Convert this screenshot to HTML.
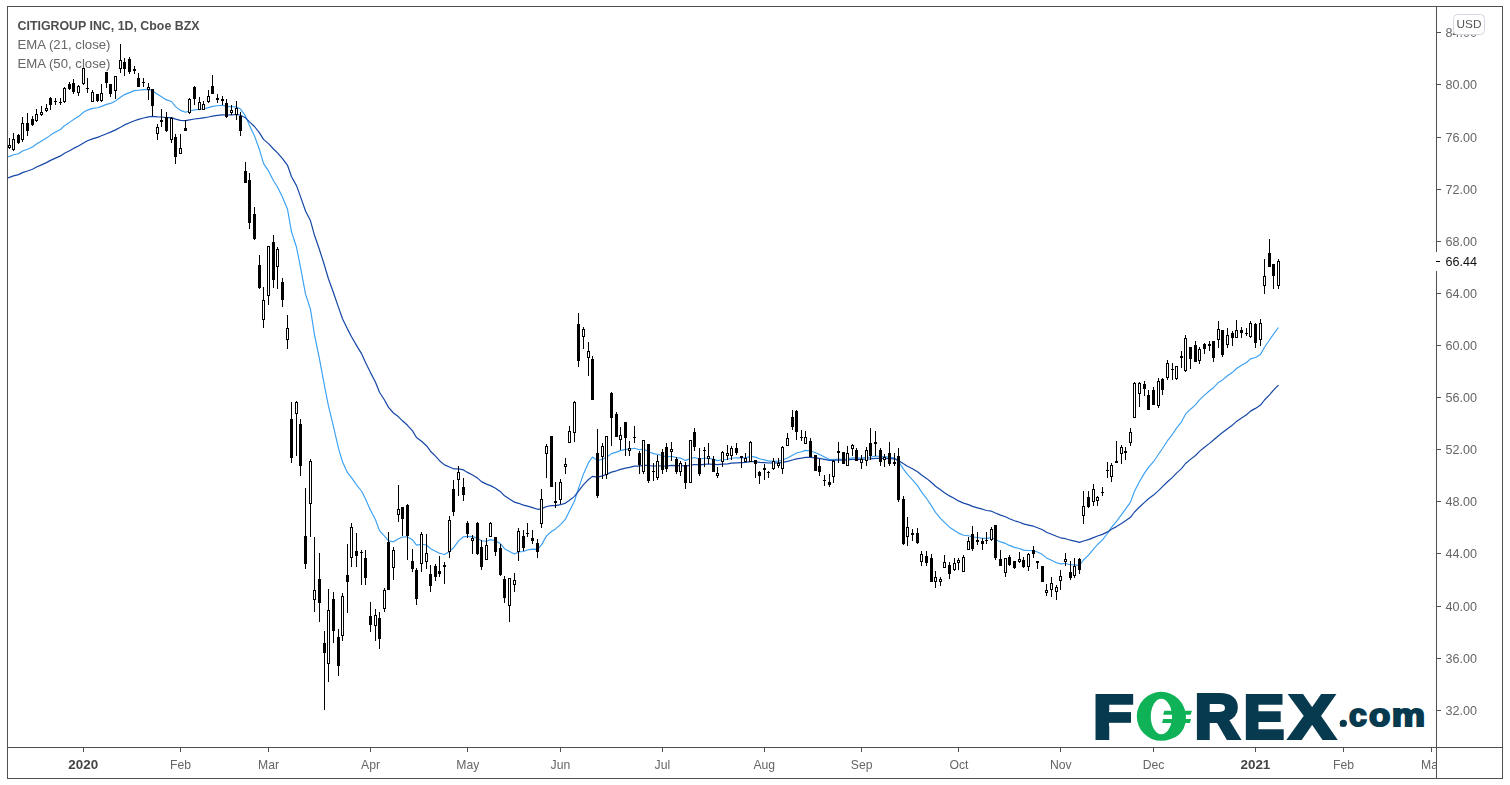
<!DOCTYPE html>
<html><head><meta charset="utf-8"><title>CITIGROUP INC, 1D</title>
<style>
html,body{margin:0;padding:0;background:#fff;}
body{width:1510px;height:785px;overflow:hidden;position:relative;}
svg{position:absolute;left:0;top:0;}
.t{font-family:"Liberation Sans",Arial,sans-serif;}
.g{filter:grayscale(1);}
</style></head><body>
<svg width="1510" height="785" viewBox="0 0 1510 785">
<defs><clipPath id="tc"><rect x="8" y="748" width="1428" height="30"/></clipPath>
<clipPath id="pc"><rect x="8" y="7" width="1428" height="740"/></clipPath></defs>
<rect x="0" y="0" width="1510" height="785" fill="#fff"/>
<g class="t g" fill="#585858">
<text x="17.5" y="30" font-size="12.2" font-weight="bold" fill="#4e4e4e" textLength="182" lengthAdjust="spacingAndGlyphs">CITIGROUP INC, 1D, Cboe BZX</text>
<text x="17.5" y="48.7" font-size="12.2" fill="#666" textLength="93" lengthAdjust="spacingAndGlyphs">EMA (21, close)</text>
<text x="17.5" y="67.6" font-size="12.2" fill="#666" textLength="93" lengthAdjust="spacingAndGlyphs">EMA (50, close)</text>
</g>
<g clip-path="url(#pc)">
<polyline fill="none" stroke="#3aa0f4" stroke-width="1.15" stroke-linejoin="round" points="4.5,157.5 9.5,156.4 13.5,154.8 18.5,153.7 22.5,151.0 27.5,149.2 32.5,147.0 36.5,144.0 41.5,141.1 46.5,138.1 50.5,135.1 55.5,132.1 60.5,129.5 64.5,125.7 69.5,122.4 73.5,119.6 78.5,116.6 83.5,112.2 87.5,110.1 92.5,108.4 97.5,107.8 101.5,106.4 106.5,104.4 110.5,103.4 115.5,100.9 120.5,97.2 124.5,94.6 129.5,92.6 134.5,90.6 138.5,90.2 143.5,89.6 148.5,89.4 152.5,90.9 157.5,94.2 161.5,96.7 166.5,99.9 171.5,101.5 175.5,106.6 180.5,110.4 185.5,112.2 189.5,111.0 194.5,109.9 199.5,109.2 203.5,108.8 208.5,107.6 212.5,106.4 217.5,105.8 222.5,105.3 226.5,106.4 231.5,106.8 236.5,106.9 240.5,109.1 245.5,115.9 249.5,125.6 254.5,135.9 259.5,149.7 263.5,163.4 268.5,170.9 273.5,180.8 277.5,187.0 282.5,197.3 287.5,209.2 291.5,231.8 296.5,247.3 300.5,267.1 305.5,294.1 310.5,309.3 314.5,334.8 319.5,359.1 324.5,385.8 328.5,406.2 333.5,426.6 338.5,448.4 342.5,461.8 347.5,472.7 351.5,477.7 356.5,484.8 361.5,491.0 365.5,498.9 370.5,510.3 375.5,519.8 379.5,530.6 384.5,536.1 388.5,540.9 393.5,541.8 398.5,538.8 402.5,537.0 407.5,536.9 412.5,539.8 416.5,545.1 421.5,544.2 426.5,545.0 430.5,548.7 435.5,551.2 439.5,553.3 444.5,554.5 449.5,551.4 453.5,547.8 458.5,540.9 463.5,536.7 467.5,536.4 472.5,536.6 477.5,538.2 481.5,540.8 486.5,541.2 490.5,539.6 495.5,540.7 500.5,543.8 504.5,548.7 509.5,551.4 514.5,554.0 518.5,551.9 523.5,551.5 527.5,550.0 532.5,549.1 537.5,549.4 541.5,544.9 546.5,535.9 551.5,531.5 555.5,528.9 560.5,524.6 565.5,519.1 569.5,511.1 574.5,501.1 578.5,488.4 583.5,473.9 588.5,462.7 592.5,457.0 597.5,460.6 602.5,459.3 606.5,457.2 611.5,453.6 616.5,452.1 620.5,450.6 625.5,449.4 629.5,449.3 634.5,448.3 639.5,449.7 643.5,448.9 648.5,451.8 653.5,453.6 657.5,454.3 662.5,455.7 666.5,456.9 671.5,456.2 676.5,457.6 680.5,458.1 685.5,460.4 690.5,458.6 694.5,457.5 699.5,459.0 704.5,458.3 708.5,458.1 713.5,459.4 717.5,460.6 722.5,459.8 727.5,459.3 731.5,458.2 736.5,457.8 741.5,457.8 745.5,457.9 750.5,456.4 755.5,457.1 759.5,458.8 764.5,459.9 768.5,461.1 773.5,461.1 778.5,461.3 782.5,460.0 787.5,458.0 792.5,455.2 796.5,453.0 801.5,451.7 805.5,450.4 810.5,451.0 815.5,452.8 819.5,454.5 824.5,457.0 829.5,459.5 833.5,459.6 838.5,459.0 843.5,459.5 847.5,458.9 852.5,457.7 856.5,458.0 861.5,458.1 866.5,457.4 870.5,457.2 875.5,456.0 880.5,456.5 884.5,456.6 889.5,457.2 894.5,457.8 898.5,461.6 903.5,469.1 907.5,474.4 912.5,479.9 917.5,485.6 921.5,491.9 926.5,498.3 931.5,505.9 935.5,512.4 940.5,518.4 944.5,522.4 949.5,527.2 954.5,530.4 958.5,533.1 963.5,535.3 968.5,535.8 972.5,537.0 977.5,537.5 982.5,538.2 986.5,538.4 991.5,537.6 995.5,539.4 1000.5,541.9 1005.5,543.4 1009.5,545.4 1014.5,547.4 1019.5,548.5 1023.5,550.1 1028.5,550.5 1033.5,550.8 1037.5,552.0 1042.5,554.6 1046.5,557.9 1051.5,560.2 1056.5,562.7 1060.5,563.9 1065.5,563.5 1070.5,564.8 1074.5,564.9 1079.5,565.4 1083.5,560.0 1088.5,555.2 1093.5,549.2 1097.5,544.5 1102.5,539.8 1107.5,533.5 1111.5,527.3 1116.5,521.4 1121.5,514.7 1125.5,509.1 1130.5,502.1 1134.5,491.3 1139.5,481.5 1144.5,473.1 1148.5,467.3 1153.5,461.7 1158.5,454.3 1162.5,448.5 1167.5,440.7 1172.5,434.3 1176.5,428.1 1181.5,421.8 1185.5,414.2 1190.5,409.2 1195.5,404.9 1199.5,399.8 1204.5,395.2 1209.5,390.7 1213.5,387.7 1218.5,382.4 1222.5,379.9 1227.5,375.8 1232.5,372.3 1236.5,368.5 1241.5,365.3 1246.5,362.5 1250.5,358.9 1255.5,357.5 1260.5,354.4 1264.5,347.3 1269.5,340.0 1273.5,334.2 1278.5,327.5"/>
<polyline fill="none" stroke="#1547a6" stroke-width="1.2" stroke-linejoin="round" points="4.5,178.7 9.5,177.4 13.5,175.9 18.5,174.6 22.5,172.6 27.5,171.0 32.5,169.2 36.5,167.0 41.5,164.9 46.5,162.6 50.5,160.4 55.5,158.1 60.5,155.9 64.5,153.3 69.5,150.8 73.5,148.4 78.5,146.0 83.5,143.0 87.5,140.8 92.5,138.9 97.5,137.4 101.5,135.7 106.5,133.7 110.5,132.1 115.5,129.9 120.5,127.2 124.5,124.9 129.5,122.8 134.5,120.8 138.5,119.4 143.5,118.0 148.5,116.8 152.5,116.4 157.5,116.8 161.5,117.0 166.5,117.6 171.5,117.6 175.5,119.1 180.5,120.3 185.5,120.7 189.5,119.9 194.5,119.0 199.5,118.4 203.5,117.8 208.5,117.0 212.5,116.1 217.5,115.4 222.5,114.9 226.5,115.0 231.5,114.8 236.5,114.5 240.5,115.2 245.5,117.8 249.5,121.9 254.5,126.5 259.5,132.9 263.5,139.4 268.5,143.6 273.5,149.0 277.5,152.9 282.5,158.6 287.5,165.3 291.5,176.8 296.5,185.6 300.5,196.6 305.5,211.0 310.5,220.8 314.5,235.3 319.5,249.7 324.5,265.5 328.5,279.0 333.5,292.8 338.5,307.4 342.5,318.8 347.5,329.1 351.5,336.8 356.5,345.4 361.5,353.6 365.5,362.4 370.5,372.6 375.5,382.2 379.5,392.2 384.5,400.0 388.5,407.4 393.5,413.0 398.5,416.8 402.5,420.8 407.5,425.3 412.5,430.9 416.5,437.5 421.5,441.3 426.5,445.7 430.5,451.2 435.5,456.1 439.5,460.7 444.5,464.9 449.5,467.0 453.5,468.8 458.5,468.9 463.5,469.9 467.5,472.4 472.5,475.0 477.5,478.1 481.5,481.6 486.5,484.1 490.5,485.6 495.5,488.2 500.5,491.7 504.5,495.8 509.5,499.0 514.5,502.2 518.5,503.3 523.5,505.1 527.5,506.2 532.5,507.6 537.5,509.3 541.5,508.9 546.5,506.5 551.5,505.7 555.5,505.6 560.5,504.7 565.5,503.1 569.5,500.3 574.5,496.4 578.5,491.1 583.5,484.7 588.5,479.5 592.5,476.4 597.5,477.1 602.5,475.9 606.5,474.4 611.5,472.1 616.5,470.8 620.5,469.4 625.5,468.1 629.5,467.4 634.5,466.2 639.5,466.1 643.5,465.1 648.5,465.7 653.5,466.0 657.5,465.8 662.5,466.0 666.5,466.1 671.5,465.4 676.5,465.7 680.5,465.6 685.5,466.2 690.5,465.2 694.5,464.5 699.5,464.9 704.5,464.3 708.5,464.0 713.5,464.3 717.5,464.7 722.5,464.2 727.5,463.8 731.5,463.1 736.5,462.8 741.5,462.6 745.5,462.4 750.5,461.6 755.5,461.7 759.5,462.3 764.5,462.6 768.5,463.0 773.5,462.9 778.5,462.9 782.5,462.3 787.5,461.4 792.5,460.0 796.5,458.9 801.5,458.1 805.5,457.3 810.5,457.3 815.5,457.8 819.5,458.4 824.5,459.3 829.5,460.3 833.5,460.3 838.5,460.0 843.5,460.2 847.5,459.9 852.5,459.3 856.5,459.4 861.5,459.4 866.5,459.0 870.5,458.9 875.5,458.3 880.5,458.4 884.5,458.4 889.5,458.6 894.5,458.8 898.5,460.4 903.5,463.7 907.5,466.2 912.5,468.8 917.5,471.8 921.5,475.0 926.5,478.4 931.5,482.5 935.5,486.2 940.5,489.8 944.5,492.7 949.5,495.9 954.5,498.5 958.5,500.9 963.5,503.1 968.5,504.6 972.5,506.4 977.5,507.8 982.5,509.2 986.5,510.5 991.5,511.2 995.5,513.0 1000.5,515.1 1005.5,516.8 1009.5,518.7 1014.5,520.7 1019.5,522.2 1023.5,523.9 1028.5,525.1 1033.5,526.2 1037.5,527.7 1042.5,529.8 1046.5,532.2 1051.5,534.2 1056.5,536.3 1060.5,537.8 1065.5,538.7 1070.5,540.2 1074.5,541.2 1079.5,542.4 1083.5,541.0 1088.5,539.6 1093.5,537.6 1097.5,536.0 1102.5,534.4 1107.5,531.9 1111.5,529.3 1116.5,526.6 1121.5,523.5 1125.5,520.8 1130.5,517.3 1134.5,512.0 1139.5,507.0 1144.5,502.4 1148.5,498.7 1153.5,495.1 1158.5,490.6 1162.5,486.6 1167.5,481.8 1172.5,477.4 1176.5,473.1 1181.5,468.6 1185.5,463.5 1190.5,459.4 1195.5,455.5 1199.5,451.4 1204.5,447.3 1209.5,443.4 1213.5,440.0 1218.5,435.7 1222.5,432.5 1227.5,428.7 1232.5,425.1 1236.5,421.4 1241.5,417.9 1246.5,414.7 1250.5,411.1 1255.5,408.4 1260.5,405.1 1264.5,400.0 1269.5,394.8 1273.5,390.2 1278.5,385.1"/>
<g fill="#000" shape-rendering="crispEdges">
<rect x="9" y="138" width="1" height="11"/>
<rect x="8" y="145" width="3" height="3"/>
<rect x="9" y="146" width="1" height="1" fill="#fff"/>
<rect x="13" y="133" width="1" height="18"/>
<rect x="12" y="139" width="3" height="11"/>
<rect x="13" y="140" width="1" height="9" fill="#fff"/>
<rect x="18" y="134" width="1" height="10"/>
<rect x="17" y="135" width="3" height="8"/>
<rect x="22" y="117" width="1" height="25"/>
<rect x="21" y="123" width="3" height="17"/>
<rect x="22" y="124" width="1" height="15" fill="#fff"/>
<rect x="27" y="113" width="1" height="23"/>
<rect x="26" y="123" width="3" height="8"/>
<rect x="32" y="116" width="1" height="10"/>
<rect x="31" y="119" width="3" height="6"/>
<rect x="36" y="109" width="1" height="13"/>
<rect x="35" y="114" width="3" height="7"/>
<rect x="36" y="115" width="1" height="5" fill="#fff"/>
<rect x="41" y="106" width="1" height="10"/>
<rect x="40" y="112" width="3" height="3"/>
<rect x="41" y="113" width="1" height="1" fill="#fff"/>
<rect x="46" y="104" width="1" height="8"/>
<rect x="45" y="108" width="3" height="3"/>
<rect x="46" y="109" width="1" height="1" fill="#fff"/>
<rect x="50" y="97" width="1" height="13"/>
<rect x="49" y="98" width="3" height="7"/>
<rect x="55" y="98" width="1" height="7"/>
<rect x="54" y="101" width="3" height="1"/>
<rect x="60" y="98" width="1" height="7"/>
<rect x="59" y="102" width="3" height="1"/>
<rect x="64" y="87" width="1" height="16"/>
<rect x="63" y="88" width="3" height="14"/>
<rect x="64" y="89" width="1" height="12" fill="#fff"/>
<rect x="69" y="82" width="1" height="8"/>
<rect x="68" y="84" width="3" height="5"/>
<rect x="73" y="79" width="1" height="15"/>
<rect x="72" y="83" width="3" height="9"/>
<rect x="78" y="85" width="1" height="11"/>
<rect x="77" y="86" width="3" height="7"/>
<rect x="78" y="87" width="1" height="5" fill="#fff"/>
<rect x="83" y="68" width="1" height="17"/>
<rect x="82" y="68" width="3" height="16"/>
<rect x="83" y="69" width="1" height="14" fill="#fff"/>
<rect x="87" y="78" width="1" height="15"/>
<rect x="86" y="88" width="3" height="1"/>
<rect x="92" y="90" width="1" height="12"/>
<rect x="91" y="92" width="3" height="10"/>
<rect x="92" y="93" width="1" height="8" fill="#fff"/>
<rect x="97" y="94" width="1" height="8"/>
<rect x="96" y="94" width="3" height="7"/>
<rect x="101" y="84" width="1" height="18"/>
<rect x="100" y="93" width="3" height="8"/>
<rect x="101" y="94" width="1" height="6" fill="#fff"/>
<rect x="106" y="72" width="1" height="16"/>
<rect x="105" y="72" width="3" height="11"/>
<rect x="110" y="84" width="1" height="13"/>
<rect x="109" y="84" width="3" height="10"/>
<rect x="115" y="76" width="1" height="23"/>
<rect x="114" y="76" width="3" height="15"/>
<rect x="115" y="77" width="1" height="13" fill="#fff"/>
<rect x="120" y="44" width="1" height="29"/>
<rect x="119" y="60" width="3" height="9"/>
<rect x="120" y="61" width="1" height="7" fill="#fff"/>
<rect x="124" y="58" width="1" height="18"/>
<rect x="123" y="62" width="3" height="7"/>
<rect x="129" y="57" width="1" height="17"/>
<rect x="128" y="59" width="3" height="13"/>
<rect x="134" y="66" width="1" height="8"/>
<rect x="133" y="69" width="3" height="2"/>
<rect x="138" y="73" width="1" height="14"/>
<rect x="137" y="78" width="3" height="9"/>
<rect x="143" y="78" width="1" height="9"/>
<rect x="142" y="82" width="3" height="1"/>
<rect x="148" y="83" width="1" height="17"/>
<rect x="147" y="87" width="3" height="3"/>
<rect x="148" y="88" width="1" height="1" fill="#fff"/>
<rect x="152" y="89" width="1" height="27"/>
<rect x="151" y="89" width="3" height="17"/>
<rect x="157" y="124" width="1" height="16"/>
<rect x="156" y="127" width="3" height="7"/>
<rect x="157" y="128" width="1" height="5" fill="#fff"/>
<rect x="161" y="109" width="1" height="18"/>
<rect x="160" y="120" width="3" height="2"/>
<rect x="166" y="112" width="1" height="20"/>
<rect x="165" y="117" width="3" height="14"/>
<rect x="171" y="117" width="1" height="26"/>
<rect x="170" y="118" width="3" height="22"/>
<rect x="171" y="119" width="1" height="20" fill="#fff"/>
<rect x="175" y="134" width="1" height="30"/>
<rect x="174" y="137" width="3" height="20"/>
<rect x="180" y="134" width="1" height="20"/>
<rect x="179" y="148" width="3" height="6"/>
<rect x="180" y="149" width="1" height="4" fill="#fff"/>
<rect x="185" y="120" width="1" height="11"/>
<rect x="184" y="128" width="3" height="3"/>
<rect x="189" y="98" width="1" height="16"/>
<rect x="188" y="99" width="3" height="14"/>
<rect x="189" y="100" width="1" height="12" fill="#fff"/>
<rect x="194" y="86" width="1" height="19"/>
<rect x="193" y="87" width="3" height="12"/>
<rect x="199" y="97" width="1" height="13"/>
<rect x="198" y="102" width="3" height="8"/>
<rect x="199" y="103" width="1" height="6" fill="#fff"/>
<rect x="203" y="101" width="1" height="9"/>
<rect x="202" y="104" width="3" height="6"/>
<rect x="203" y="105" width="1" height="4" fill="#fff"/>
<rect x="208" y="90" width="1" height="13"/>
<rect x="207" y="96" width="3" height="6"/>
<rect x="208" y="97" width="1" height="4" fill="#fff"/>
<rect x="212" y="75" width="1" height="19"/>
<rect x="211" y="86" width="3" height="8"/>
<rect x="217" y="94" width="1" height="9"/>
<rect x="216" y="98" width="3" height="2"/>
<rect x="222" y="96" width="1" height="9"/>
<rect x="221" y="99" width="3" height="2"/>
<rect x="226" y="99" width="1" height="19"/>
<rect x="225" y="103" width="3" height="14"/>
<rect x="231" y="105" width="1" height="10"/>
<rect x="230" y="110" width="3" height="3"/>
<rect x="231" y="111" width="1" height="1" fill="#fff"/>
<rect x="236" y="101" width="1" height="19"/>
<rect x="235" y="108" width="3" height="7"/>
<rect x="236" y="109" width="1" height="5" fill="#fff"/>
<rect x="240" y="112" width="1" height="24"/>
<rect x="239" y="116" width="3" height="15"/>
<rect x="245" y="162" width="1" height="21"/>
<rect x="244" y="171" width="3" height="12"/>
<rect x="249" y="173" width="1" height="56"/>
<rect x="248" y="180" width="3" height="43"/>
<rect x="254" y="207" width="1" height="33"/>
<rect x="253" y="214" width="3" height="25"/>
<rect x="259" y="255" width="1" height="34"/>
<rect x="258" y="265" width="3" height="23"/>
<rect x="263" y="287" width="1" height="41"/>
<rect x="262" y="300" width="3" height="20"/>
<rect x="263" y="301" width="1" height="18" fill="#fff"/>
<rect x="268" y="246" width="1" height="59"/>
<rect x="267" y="246" width="3" height="50"/>
<rect x="268" y="247" width="1" height="48" fill="#fff"/>
<rect x="273" y="235" width="1" height="53"/>
<rect x="272" y="242" width="3" height="38"/>
<rect x="277" y="247" width="1" height="42"/>
<rect x="276" y="249" width="3" height="18"/>
<rect x="277" y="250" width="1" height="16" fill="#fff"/>
<rect x="282" y="278" width="1" height="29"/>
<rect x="281" y="282" width="3" height="18"/>
<rect x="287" y="315" width="1" height="34"/>
<rect x="286" y="328" width="3" height="12"/>
<rect x="287" y="329" width="1" height="10" fill="#fff"/>
<rect x="291" y="402" width="1" height="61"/>
<rect x="290" y="419" width="3" height="39"/>
<rect x="296" y="401" width="1" height="55"/>
<rect x="295" y="402" width="3" height="12"/>
<rect x="296" y="403" width="1" height="10" fill="#fff"/>
<rect x="300" y="419" width="1" height="57"/>
<rect x="299" y="424" width="3" height="42"/>
<rect x="305" y="488" width="1" height="81"/>
<rect x="304" y="536" width="3" height="28"/>
<rect x="310" y="459" width="1" height="78"/>
<rect x="309" y="461" width="3" height="43"/>
<rect x="310" y="462" width="1" height="41" fill="#fff"/>
<rect x="314" y="537" width="1" height="75"/>
<rect x="313" y="590" width="3" height="10"/>
<rect x="314" y="591" width="1" height="8" fill="#fff"/>
<rect x="319" y="553" width="1" height="69"/>
<rect x="318" y="579" width="3" height="24"/>
<rect x="324" y="631" width="1" height="79"/>
<rect x="323" y="643" width="3" height="10"/>
<rect x="328" y="589" width="1" height="93"/>
<rect x="327" y="610" width="3" height="54"/>
<rect x="328" y="611" width="1" height="52" fill="#fff"/>
<rect x="333" y="592" width="1" height="51"/>
<rect x="332" y="599" width="3" height="32"/>
<rect x="338" y="629" width="1" height="47"/>
<rect x="337" y="637" width="3" height="29"/>
<rect x="342" y="593" width="1" height="48"/>
<rect x="341" y="596" width="3" height="40"/>
<rect x="342" y="597" width="1" height="38" fill="#fff"/>
<rect x="347" y="544" width="1" height="69"/>
<rect x="346" y="575" width="3" height="7"/>
<rect x="351" y="523" width="1" height="44"/>
<rect x="350" y="527" width="3" height="31"/>
<rect x="351" y="528" width="1" height="29" fill="#fff"/>
<rect x="356" y="533" width="1" height="34"/>
<rect x="355" y="551" width="3" height="5"/>
<rect x="361" y="550" width="1" height="35"/>
<rect x="360" y="552" width="3" height="1"/>
<rect x="365" y="550" width="1" height="35"/>
<rect x="364" y="558" width="3" height="20"/>
<rect x="370" y="602" width="1" height="30"/>
<rect x="369" y="616" width="3" height="9"/>
<rect x="375" y="609" width="1" height="32"/>
<rect x="374" y="615" width="3" height="11"/>
<rect x="375" y="616" width="1" height="9" fill="#fff"/>
<rect x="379" y="612" width="1" height="37"/>
<rect x="378" y="618" width="3" height="21"/>
<rect x="384" y="588" width="1" height="24"/>
<rect x="383" y="590" width="3" height="19"/>
<rect x="384" y="591" width="1" height="17" fill="#fff"/>
<rect x="388" y="532" width="1" height="58"/>
<rect x="387" y="542" width="3" height="48"/>
<rect x="393" y="547" width="1" height="33"/>
<rect x="392" y="550" width="3" height="18"/>
<rect x="393" y="551" width="1" height="16" fill="#fff"/>
<rect x="398" y="485" width="1" height="37"/>
<rect x="397" y="509" width="3" height="6"/>
<rect x="398" y="510" width="1" height="4" fill="#fff"/>
<rect x="402" y="507" width="1" height="29"/>
<rect x="401" y="507" width="3" height="12"/>
<rect x="407" y="504" width="1" height="56"/>
<rect x="406" y="505" width="3" height="31"/>
<rect x="412" y="549" width="1" height="23"/>
<rect x="411" y="561" width="3" height="8"/>
<rect x="416" y="568" width="1" height="37"/>
<rect x="415" y="570" width="3" height="29"/>
<rect x="421" y="532" width="1" height="40"/>
<rect x="420" y="534" width="3" height="30"/>
<rect x="421" y="535" width="1" height="28" fill="#fff"/>
<rect x="426" y="534" width="1" height="35"/>
<rect x="425" y="553" width="3" height="9"/>
<rect x="426" y="554" width="1" height="7" fill="#fff"/>
<rect x="430" y="565" width="1" height="27"/>
<rect x="429" y="574" width="3" height="12"/>
<rect x="435" y="564" width="1" height="17"/>
<rect x="434" y="566" width="3" height="11"/>
<rect x="439" y="556" width="1" height="21"/>
<rect x="438" y="571" width="3" height="3"/>
<rect x="444" y="562" width="1" height="22"/>
<rect x="443" y="565" width="3" height="2"/>
<rect x="449" y="516" width="1" height="42"/>
<rect x="448" y="520" width="3" height="32"/>
<rect x="449" y="521" width="1" height="30" fill="#fff"/>
<rect x="453" y="480" width="1" height="36"/>
<rect x="452" y="489" width="3" height="23"/>
<rect x="458" y="466" width="1" height="30"/>
<rect x="457" y="472" width="3" height="8"/>
<rect x="458" y="473" width="1" height="6" fill="#fff"/>
<rect x="463" y="478" width="1" height="23"/>
<rect x="462" y="487" width="3" height="8"/>
<rect x="467" y="521" width="1" height="17"/>
<rect x="466" y="523" width="3" height="11"/>
<rect x="472" y="535" width="1" height="19"/>
<rect x="471" y="538" width="3" height="3"/>
<rect x="472" y="539" width="1" height="1" fill="#fff"/>
<rect x="477" y="522" width="1" height="33"/>
<rect x="476" y="523" width="3" height="31"/>
<rect x="481" y="540" width="1" height="30"/>
<rect x="480" y="547" width="3" height="20"/>
<rect x="486" y="538" width="1" height="22"/>
<rect x="485" y="545" width="3" height="15"/>
<rect x="486" y="546" width="1" height="13" fill="#fff"/>
<rect x="490" y="522" width="1" height="15"/>
<rect x="489" y="523" width="3" height="14"/>
<rect x="490" y="524" width="1" height="12" fill="#fff"/>
<rect x="495" y="537" width="1" height="19"/>
<rect x="494" y="537" width="3" height="15"/>
<rect x="500" y="544" width="1" height="32"/>
<rect x="499" y="548" width="3" height="27"/>
<rect x="504" y="576" width="1" height="27"/>
<rect x="503" y="579" width="3" height="19"/>
<rect x="509" y="578" width="1" height="44"/>
<rect x="508" y="578" width="3" height="28"/>
<rect x="509" y="579" width="1" height="26" fill="#fff"/>
<rect x="514" y="573" width="1" height="19"/>
<rect x="513" y="580" width="3" height="5"/>
<rect x="514" y="581" width="1" height="3" fill="#fff"/>
<rect x="518" y="528" width="1" height="33"/>
<rect x="517" y="531" width="3" height="21"/>
<rect x="518" y="532" width="1" height="19" fill="#fff"/>
<rect x="523" y="530" width="1" height="21"/>
<rect x="522" y="536" width="3" height="12"/>
<rect x="527" y="523" width="1" height="14"/>
<rect x="526" y="533" width="3" height="1"/>
<rect x="532" y="530" width="1" height="14"/>
<rect x="531" y="538" width="3" height="3"/>
<rect x="537" y="539" width="1" height="19"/>
<rect x="536" y="543" width="3" height="9"/>
<rect x="541" y="489" width="1" height="39"/>
<rect x="540" y="499" width="3" height="25"/>
<rect x="541" y="500" width="1" height="23" fill="#fff"/>
<rect x="546" y="444" width="1" height="34"/>
<rect x="545" y="446" width="3" height="8"/>
<rect x="546" y="447" width="1" height="6" fill="#fff"/>
<rect x="551" y="436" width="1" height="51"/>
<rect x="550" y="436" width="3" height="51"/>
<rect x="555" y="482" width="1" height="26"/>
<rect x="554" y="501" width="3" height="2"/>
<rect x="560" y="479" width="1" height="25"/>
<rect x="559" y="482" width="3" height="18"/>
<rect x="560" y="483" width="1" height="16" fill="#fff"/>
<rect x="565" y="458" width="1" height="16"/>
<rect x="564" y="464" width="3" height="3"/>
<rect x="565" y="465" width="1" height="1" fill="#fff"/>
<rect x="569" y="426" width="1" height="17"/>
<rect x="568" y="431" width="3" height="12"/>
<rect x="569" y="432" width="1" height="10" fill="#fff"/>
<rect x="574" y="401" width="1" height="41"/>
<rect x="573" y="402" width="3" height="31"/>
<rect x="574" y="403" width="1" height="29" fill="#fff"/>
<rect x="578" y="313" width="1" height="54"/>
<rect x="577" y="324" width="3" height="37"/>
<rect x="583" y="327" width="1" height="22"/>
<rect x="582" y="329" width="3" height="8"/>
<rect x="583" y="330" width="1" height="6" fill="#fff"/>
<rect x="588" y="342" width="1" height="34"/>
<rect x="587" y="351" width="3" height="7"/>
<rect x="588" y="352" width="1" height="5" fill="#fff"/>
<rect x="592" y="356" width="1" height="44"/>
<rect x="591" y="359" width="3" height="41"/>
<rect x="597" y="429" width="1" height="69"/>
<rect x="596" y="453" width="3" height="43"/>
<rect x="602" y="443" width="1" height="36"/>
<rect x="601" y="446" width="3" height="11"/>
<rect x="602" y="447" width="1" height="9" fill="#fff"/>
<rect x="606" y="436" width="1" height="43"/>
<rect x="605" y="436" width="3" height="39"/>
<rect x="606" y="437" width="1" height="37" fill="#fff"/>
<rect x="611" y="392" width="1" height="54"/>
<rect x="610" y="393" width="3" height="25"/>
<rect x="616" y="412" width="1" height="25"/>
<rect x="615" y="414" width="3" height="23"/>
<rect x="620" y="427" width="1" height="23"/>
<rect x="619" y="435" width="3" height="5"/>
<rect x="620" y="436" width="1" height="3" fill="#fff"/>
<rect x="625" y="422" width="1" height="34"/>
<rect x="624" y="422" width="3" height="16"/>
<rect x="629" y="441" width="1" height="15"/>
<rect x="628" y="448" width="3" height="3"/>
<rect x="629" y="449" width="1" height="1" fill="#fff"/>
<rect x="634" y="426" width="1" height="17"/>
<rect x="633" y="437" width="3" height="1"/>
<rect x="639" y="451" width="1" height="23"/>
<rect x="638" y="453" width="3" height="12"/>
<rect x="643" y="440" width="1" height="34"/>
<rect x="642" y="440" width="3" height="32"/>
<rect x="643" y="441" width="1" height="30" fill="#fff"/>
<rect x="648" y="444" width="1" height="39"/>
<rect x="647" y="444" width="3" height="37"/>
<rect x="653" y="463" width="1" height="18"/>
<rect x="652" y="471" width="3" height="1"/>
<rect x="657" y="455" width="1" height="25"/>
<rect x="656" y="461" width="3" height="17"/>
<rect x="657" y="462" width="1" height="15" fill="#fff"/>
<rect x="662" y="449" width="1" height="25"/>
<rect x="661" y="452" width="3" height="18"/>
<rect x="666" y="443" width="1" height="29"/>
<rect x="665" y="447" width="3" height="22"/>
<rect x="671" y="442" width="1" height="19"/>
<rect x="670" y="449" width="3" height="3"/>
<rect x="671" y="450" width="1" height="1" fill="#fff"/>
<rect x="676" y="457" width="1" height="17"/>
<rect x="675" y="459" width="3" height="13"/>
<rect x="680" y="461" width="1" height="15"/>
<rect x="679" y="463" width="3" height="9"/>
<rect x="680" y="464" width="1" height="7" fill="#fff"/>
<rect x="685" y="462" width="1" height="27"/>
<rect x="684" y="465" width="3" height="18"/>
<rect x="690" y="440" width="1" height="43"/>
<rect x="689" y="440" width="3" height="43"/>
<rect x="690" y="441" width="1" height="41" fill="#fff"/>
<rect x="694" y="428" width="1" height="23"/>
<rect x="693" y="432" width="3" height="15"/>
<rect x="699" y="448" width="1" height="28"/>
<rect x="698" y="458" width="3" height="16"/>
<rect x="704" y="447" width="1" height="20"/>
<rect x="703" y="450" width="3" height="1"/>
<rect x="708" y="443" width="1" height="21"/>
<rect x="707" y="456" width="3" height="3"/>
<rect x="708" y="457" width="1" height="1" fill="#fff"/>
<rect x="713" y="456" width="1" height="16"/>
<rect x="712" y="459" width="3" height="13"/>
<rect x="717" y="467" width="1" height="11"/>
<rect x="716" y="473" width="3" height="3"/>
<rect x="717" y="474" width="1" height="1" fill="#fff"/>
<rect x="722" y="451" width="1" height="16"/>
<rect x="721" y="452" width="3" height="10"/>
<rect x="722" y="453" width="1" height="8" fill="#fff"/>
<rect x="727" y="445" width="1" height="15"/>
<rect x="726" y="453" width="3" height="3"/>
<rect x="727" y="454" width="1" height="1" fill="#fff"/>
<rect x="731" y="446" width="1" height="14"/>
<rect x="730" y="448" width="3" height="8"/>
<rect x="731" y="449" width="1" height="6" fill="#fff"/>
<rect x="736" y="443" width="1" height="12"/>
<rect x="735" y="448" width="3" height="5"/>
<rect x="741" y="456" width="1" height="12"/>
<rect x="740" y="456" width="3" height="2"/>
<rect x="745" y="453" width="1" height="9"/>
<rect x="744" y="458" width="3" height="4"/>
<rect x="745" y="459" width="1" height="2" fill="#fff"/>
<rect x="750" y="441" width="1" height="21"/>
<rect x="749" y="442" width="3" height="20"/>
<rect x="750" y="443" width="1" height="18" fill="#fff"/>
<rect x="755" y="460" width="1" height="18"/>
<rect x="754" y="460" width="3" height="4"/>
<rect x="759" y="471" width="1" height="13"/>
<rect x="758" y="472" width="3" height="4"/>
<rect x="764" y="464" width="1" height="16"/>
<rect x="763" y="468" width="3" height="2"/>
<rect x="768" y="471" width="1" height="7"/>
<rect x="767" y="472" width="3" height="1"/>
<rect x="773" y="458" width="1" height="12"/>
<rect x="772" y="461" width="3" height="8"/>
<rect x="773" y="462" width="1" height="6" fill="#fff"/>
<rect x="778" y="458" width="1" height="10"/>
<rect x="777" y="463" width="3" height="3"/>
<rect x="778" y="464" width="1" height="1" fill="#fff"/>
<rect x="782" y="446" width="1" height="28"/>
<rect x="781" y="447" width="3" height="22"/>
<rect x="782" y="448" width="1" height="20" fill="#fff"/>
<rect x="787" y="433" width="1" height="13"/>
<rect x="786" y="438" width="3" height="8"/>
<rect x="787" y="439" width="1" height="6" fill="#fff"/>
<rect x="792" y="410" width="1" height="20"/>
<rect x="791" y="417" width="3" height="10"/>
<rect x="796" y="410" width="1" height="30"/>
<rect x="795" y="411" width="3" height="21"/>
<rect x="801" y="430" width="1" height="11"/>
<rect x="800" y="437" width="3" height="1"/>
<rect x="805" y="431" width="1" height="13"/>
<rect x="804" y="437" width="3" height="7"/>
<rect x="805" y="438" width="1" height="5" fill="#fff"/>
<rect x="810" y="438" width="1" height="19"/>
<rect x="809" y="441" width="3" height="16"/>
<rect x="815" y="455" width="1" height="16"/>
<rect x="814" y="455" width="3" height="16"/>
<rect x="819" y="459" width="1" height="17"/>
<rect x="818" y="466" width="3" height="6"/>
<rect x="824" y="475" width="1" height="11"/>
<rect x="823" y="480" width="3" height="1"/>
<rect x="829" y="474" width="1" height="13"/>
<rect x="828" y="482" width="3" height="3"/>
<rect x="833" y="460" width="1" height="23"/>
<rect x="832" y="461" width="3" height="16"/>
<rect x="833" y="462" width="1" height="14" fill="#fff"/>
<rect x="838" y="442" width="1" height="21"/>
<rect x="837" y="451" width="3" height="2"/>
<rect x="843" y="452" width="1" height="12"/>
<rect x="842" y="452" width="3" height="12"/>
<rect x="847" y="446" width="1" height="20"/>
<rect x="846" y="453" width="3" height="13"/>
<rect x="847" y="454" width="1" height="11" fill="#fff"/>
<rect x="852" y="444" width="1" height="12"/>
<rect x="851" y="445" width="3" height="4"/>
<rect x="852" y="446" width="1" height="2" fill="#fff"/>
<rect x="856" y="448" width="1" height="13"/>
<rect x="855" y="450" width="3" height="11"/>
<rect x="861" y="455" width="1" height="14"/>
<rect x="860" y="459" width="3" height="4"/>
<rect x="861" y="460" width="1" height="2" fill="#fff"/>
<rect x="866" y="447" width="1" height="19"/>
<rect x="865" y="450" width="3" height="11"/>
<rect x="866" y="451" width="1" height="9" fill="#fff"/>
<rect x="870" y="428" width="1" height="32"/>
<rect x="869" y="443" width="3" height="13"/>
<rect x="875" y="431" width="1" height="25"/>
<rect x="874" y="442" width="3" height="2"/>
<rect x="880" y="448" width="1" height="18"/>
<rect x="879" y="450" width="3" height="12"/>
<rect x="884" y="454" width="1" height="13"/>
<rect x="883" y="457" width="3" height="3"/>
<rect x="884" y="458" width="1" height="1" fill="#fff"/>
<rect x="889" y="442" width="1" height="24"/>
<rect x="888" y="453" width="3" height="11"/>
<rect x="894" y="453" width="1" height="13"/>
<rect x="893" y="462" width="3" height="2"/>
<rect x="898" y="448" width="1" height="54"/>
<rect x="897" y="456" width="3" height="44"/>
<rect x="903" y="496" width="1" height="49"/>
<rect x="902" y="499" width="3" height="45"/>
<rect x="907" y="517" width="1" height="29"/>
<rect x="906" y="527" width="3" height="10"/>
<rect x="907" y="528" width="1" height="8" fill="#fff"/>
<rect x="912" y="529" width="1" height="12"/>
<rect x="911" y="533" width="3" height="2"/>
<rect x="917" y="528" width="1" height="16"/>
<rect x="916" y="533" width="3" height="10"/>
<rect x="921" y="551" width="1" height="15"/>
<rect x="920" y="554" width="3" height="8"/>
<rect x="921" y="555" width="1" height="6" fill="#fff"/>
<rect x="926" y="551" width="1" height="15"/>
<rect x="925" y="556" width="3" height="7"/>
<rect x="931" y="554" width="1" height="28"/>
<rect x="930" y="558" width="3" height="24"/>
<rect x="935" y="571" width="1" height="17"/>
<rect x="934" y="577" width="3" height="5"/>
<rect x="935" y="578" width="1" height="3" fill="#fff"/>
<rect x="940" y="577" width="1" height="9"/>
<rect x="939" y="579" width="3" height="3"/>
<rect x="940" y="580" width="1" height="1" fill="#fff"/>
<rect x="944" y="555" width="1" height="13"/>
<rect x="943" y="562" width="3" height="6"/>
<rect x="944" y="563" width="1" height="4" fill="#fff"/>
<rect x="949" y="562" width="1" height="17"/>
<rect x="948" y="565" width="3" height="9"/>
<rect x="954" y="558" width="1" height="13"/>
<rect x="953" y="563" width="3" height="7"/>
<rect x="954" y="564" width="1" height="5" fill="#fff"/>
<rect x="958" y="558" width="1" height="12"/>
<rect x="957" y="560" width="3" height="3"/>
<rect x="958" y="561" width="1" height="1" fill="#fff"/>
<rect x="963" y="555" width="1" height="17"/>
<rect x="962" y="557" width="3" height="15"/>
<rect x="963" y="558" width="1" height="13" fill="#fff"/>
<rect x="968" y="537" width="1" height="13"/>
<rect x="967" y="541" width="3" height="9"/>
<rect x="968" y="542" width="1" height="7" fill="#fff"/>
<rect x="972" y="526" width="1" height="25"/>
<rect x="971" y="534" width="3" height="15"/>
<rect x="977" y="532" width="1" height="13"/>
<rect x="976" y="540" width="3" height="2"/>
<rect x="982" y="538" width="1" height="12"/>
<rect x="981" y="541" width="3" height="3"/>
<rect x="986" y="532" width="1" height="12"/>
<rect x="985" y="540" width="3" height="1"/>
<rect x="991" y="527" width="1" height="14"/>
<rect x="990" y="529" width="3" height="11"/>
<rect x="991" y="530" width="1" height="9" fill="#fff"/>
<rect x="995" y="525" width="1" height="35"/>
<rect x="994" y="525" width="3" height="33"/>
<rect x="1000" y="550" width="1" height="16"/>
<rect x="999" y="559" width="3" height="7"/>
<rect x="1005" y="558" width="1" height="19"/>
<rect x="1004" y="558" width="3" height="15"/>
<rect x="1005" y="559" width="1" height="13" fill="#fff"/>
<rect x="1009" y="555" width="1" height="11"/>
<rect x="1008" y="557" width="3" height="8"/>
<rect x="1014" y="561" width="1" height="8"/>
<rect x="1013" y="561" width="3" height="7"/>
<rect x="1019" y="552" width="1" height="11"/>
<rect x="1018" y="559" width="3" height="3"/>
<rect x="1019" y="560" width="1" height="1" fill="#fff"/>
<rect x="1023" y="557" width="1" height="11"/>
<rect x="1022" y="560" width="3" height="7"/>
<rect x="1028" y="553" width="1" height="18"/>
<rect x="1027" y="554" width="3" height="13"/>
<rect x="1028" y="555" width="1" height="11" fill="#fff"/>
<rect x="1033" y="546" width="1" height="12"/>
<rect x="1032" y="550" width="3" height="4"/>
<rect x="1037" y="561" width="1" height="8"/>
<rect x="1036" y="561" width="3" height="2"/>
<rect x="1042" y="566" width="1" height="16"/>
<rect x="1041" y="566" width="3" height="16"/>
<rect x="1046" y="584" width="1" height="12"/>
<rect x="1045" y="590" width="3" height="3"/>
<rect x="1046" y="591" width="1" height="1" fill="#fff"/>
<rect x="1051" y="577" width="1" height="20"/>
<rect x="1050" y="583" width="3" height="7"/>
<rect x="1051" y="584" width="1" height="5" fill="#fff"/>
<rect x="1056" y="585" width="1" height="15"/>
<rect x="1055" y="587" width="3" height="5"/>
<rect x="1056" y="588" width="1" height="3" fill="#fff"/>
<rect x="1060" y="570" width="1" height="20"/>
<rect x="1059" y="576" width="3" height="5"/>
<rect x="1060" y="577" width="1" height="3" fill="#fff"/>
<rect x="1065" y="553" width="1" height="13"/>
<rect x="1064" y="559" width="3" height="3"/>
<rect x="1065" y="560" width="1" height="1" fill="#fff"/>
<rect x="1070" y="561" width="1" height="19"/>
<rect x="1069" y="572" width="3" height="6"/>
<rect x="1074" y="558" width="1" height="20"/>
<rect x="1073" y="566" width="3" height="10"/>
<rect x="1074" y="567" width="1" height="8" fill="#fff"/>
<rect x="1079" y="558" width="1" height="16"/>
<rect x="1078" y="559" width="3" height="11"/>
<rect x="1083" y="491" width="1" height="33"/>
<rect x="1082" y="506" width="3" height="10"/>
<rect x="1083" y="507" width="1" height="8" fill="#fff"/>
<rect x="1088" y="491" width="1" height="17"/>
<rect x="1087" y="497" width="3" height="10"/>
<rect x="1093" y="484" width="1" height="22"/>
<rect x="1092" y="489" width="3" height="13"/>
<rect x="1093" y="490" width="1" height="11" fill="#fff"/>
<rect x="1097" y="496" width="1" height="10"/>
<rect x="1096" y="497" width="3" height="4"/>
<rect x="1097" y="498" width="1" height="2" fill="#fff"/>
<rect x="1102" y="487" width="1" height="9"/>
<rect x="1101" y="492" width="3" height="1"/>
<rect x="1107" y="462" width="1" height="16"/>
<rect x="1106" y="470" width="3" height="1"/>
<rect x="1111" y="463" width="1" height="19"/>
<rect x="1110" y="465" width="3" height="12"/>
<rect x="1111" y="466" width="1" height="10" fill="#fff"/>
<rect x="1116" y="441" width="1" height="22"/>
<rect x="1115" y="461" width="3" height="2"/>
<rect x="1121" y="445" width="1" height="19"/>
<rect x="1120" y="447" width="3" height="7"/>
<rect x="1121" y="448" width="1" height="5" fill="#fff"/>
<rect x="1125" y="447" width="1" height="13"/>
<rect x="1124" y="451" width="3" height="2"/>
<rect x="1130" y="428" width="1" height="18"/>
<rect x="1129" y="432" width="3" height="11"/>
<rect x="1130" y="433" width="1" height="9" fill="#fff"/>
<rect x="1134" y="382" width="1" height="36"/>
<rect x="1133" y="383" width="3" height="35"/>
<rect x="1134" y="384" width="1" height="33" fill="#fff"/>
<rect x="1139" y="382" width="1" height="25"/>
<rect x="1138" y="383" width="3" height="11"/>
<rect x="1139" y="384" width="1" height="9" fill="#fff"/>
<rect x="1144" y="381" width="1" height="15"/>
<rect x="1143" y="384" width="3" height="5"/>
<rect x="1148" y="390" width="1" height="20"/>
<rect x="1147" y="395" width="3" height="15"/>
<rect x="1153" y="387" width="1" height="18"/>
<rect x="1152" y="390" width="3" height="15"/>
<rect x="1158" y="378" width="1" height="30"/>
<rect x="1157" y="381" width="3" height="25"/>
<rect x="1158" y="382" width="1" height="23" fill="#fff"/>
<rect x="1162" y="378" width="1" height="17"/>
<rect x="1161" y="379" width="3" height="11"/>
<rect x="1167" y="360" width="1" height="20"/>
<rect x="1166" y="363" width="3" height="15"/>
<rect x="1167" y="364" width="1" height="13" fill="#fff"/>
<rect x="1172" y="363" width="1" height="17"/>
<rect x="1171" y="369" width="3" height="1"/>
<rect x="1176" y="366" width="1" height="14"/>
<rect x="1175" y="366" width="3" height="13"/>
<rect x="1176" y="367" width="1" height="11" fill="#fff"/>
<rect x="1181" y="351" width="1" height="17"/>
<rect x="1180" y="356" width="3" height="2"/>
<rect x="1185" y="335" width="1" height="37"/>
<rect x="1184" y="338" width="3" height="33"/>
<rect x="1185" y="339" width="1" height="31" fill="#fff"/>
<rect x="1190" y="347" width="1" height="22"/>
<rect x="1189" y="347" width="3" height="12"/>
<rect x="1195" y="341" width="1" height="21"/>
<rect x="1194" y="345" width="3" height="17"/>
<rect x="1199" y="347" width="1" height="17"/>
<rect x="1198" y="349" width="3" height="12"/>
<rect x="1199" y="350" width="1" height="10" fill="#fff"/>
<rect x="1204" y="343" width="1" height="11"/>
<rect x="1203" y="344" width="3" height="5"/>
<rect x="1209" y="341" width="1" height="10"/>
<rect x="1208" y="344" width="3" height="2"/>
<rect x="1213" y="341" width="1" height="21"/>
<rect x="1212" y="341" width="3" height="17"/>
<rect x="1218" y="321" width="1" height="27"/>
<rect x="1217" y="329" width="3" height="11"/>
<rect x="1218" y="330" width="1" height="9" fill="#fff"/>
<rect x="1222" y="330" width="1" height="27"/>
<rect x="1221" y="330" width="3" height="25"/>
<rect x="1227" y="328" width="1" height="20"/>
<rect x="1226" y="335" width="3" height="10"/>
<rect x="1227" y="336" width="1" height="8" fill="#fff"/>
<rect x="1232" y="331" width="1" height="15"/>
<rect x="1231" y="333" width="3" height="5"/>
<rect x="1236" y="320" width="1" height="18"/>
<rect x="1235" y="330" width="3" height="8"/>
<rect x="1236" y="331" width="1" height="6" fill="#fff"/>
<rect x="1241" y="327" width="1" height="11"/>
<rect x="1240" y="330" width="3" height="3"/>
<rect x="1246" y="328" width="1" height="8"/>
<rect x="1245" y="333" width="3" height="1"/>
<rect x="1250" y="321" width="1" height="17"/>
<rect x="1249" y="323" width="3" height="14"/>
<rect x="1250" y="324" width="1" height="12" fill="#fff"/>
<rect x="1255" y="323" width="1" height="25"/>
<rect x="1254" y="324" width="3" height="19"/>
<rect x="1260" y="319" width="1" height="27"/>
<rect x="1259" y="323" width="3" height="17"/>
<rect x="1260" y="324" width="1" height="15" fill="#fff"/>
<rect x="1264" y="259" width="1" height="35"/>
<rect x="1263" y="276" width="3" height="10"/>
<rect x="1264" y="277" width="1" height="8" fill="#fff"/>
<rect x="1269" y="239" width="1" height="28"/>
<rect x="1268" y="253" width="3" height="14"/>
<rect x="1273" y="264" width="1" height="25"/>
<rect x="1272" y="264" width="3" height="12"/>
<rect x="1278" y="259" width="1" height="30"/>
<rect x="1277" y="261" width="3" height="25"/>
<rect x="1278" y="262" width="1" height="23" fill="#fff"/>
</g>
</g>
<g fill="#505050" shape-rendering="crispEdges">
<rect x="7" y="6" width="1496" height="1"/>
<rect x="7" y="778" width="1496" height="1"/>
<rect x="7" y="6" width="1" height="773"/>
<rect x="1502" y="6" width="1" height="773"/>
<rect x="1436" y="6" width="1" height="773"/>
<rect x="7" y="747" width="1496" height="1"/>
<rect x="1437" y="32" width="4" height="1"/>
<rect x="1437" y="84" width="4" height="1"/>
<rect x="1437" y="137" width="4" height="1"/>
<rect x="1437" y="189" width="4" height="1"/>
<rect x="1437" y="241" width="4" height="1"/>
<rect x="1437" y="293" width="4" height="1"/>
<rect x="1437" y="345" width="4" height="1"/>
<rect x="1437" y="397" width="4" height="1"/>
<rect x="1437" y="449" width="4" height="1"/>
<rect x="1437" y="501" width="4" height="1"/>
<rect x="1437" y="553" width="4" height="1"/>
<rect x="1437" y="606" width="4" height="1"/>
<rect x="1437" y="658" width="4" height="1"/>
<rect x="1437" y="710" width="4" height="1"/>
<rect x="83" y="748" width="1" height="4"/>
<rect x="180" y="748" width="1" height="4"/>
<rect x="268" y="748" width="1" height="4"/>
<rect x="370" y="748" width="1" height="4"/>
<rect x="467" y="748" width="1" height="4"/>
<rect x="560" y="748" width="1" height="4"/>
<rect x="662" y="748" width="1" height="4"/>
<rect x="764" y="748" width="1" height="4"/>
<rect x="861" y="748" width="1" height="4"/>
<rect x="958" y="748" width="1" height="4"/>
<rect x="1060" y="748" width="1" height="4"/>
<rect x="1153" y="748" width="1" height="4"/>
<rect x="1255" y="748" width="1" height="4"/>
<rect x="1343" y="748" width="1" height="4"/>
<rect x="1431" y="748" width="1" height="4"/>
</g>
<g class="t g" font-size="12.6" fill="#666">
<text x="1445.5" y="37">84.00</text>
<text x="1445.5" y="89">80.00</text>
<text x="1445.5" y="142">76.00</text>
<text x="1445.5" y="194">72.00</text>
<text x="1445.5" y="246">68.00</text>
<text x="1445.5" y="298">64.00</text>
<text x="1445.5" y="350">60.00</text>
<text x="1445.5" y="402">56.00</text>
<text x="1445.5" y="454">52.00</text>
<text x="1445.5" y="506">48.00</text>
<text x="1445.5" y="558">44.00</text>
<text x="1445.5" y="611">40.00</text>
<text x="1445.5" y="663">36.00</text>
<text x="1445.5" y="715">32.00</text>
</g>
<rect x="1436" y="252" width="66" height="19" fill="#fff"/>
<rect x="1436" y="261" width="4" height="1" fill="#000" shape-rendering="crispEdges"/>
<text class="t g" x="1445.5" y="266" font-size="12.6" fill="#111">66.44</text>
<rect x="1453.5" y="14.5" width="31" height="20" rx="4" ry="4" fill="#fff" stroke="#d4d8e2" stroke-width="1"/>
<text class="t g" x="1469" y="28" font-size="11.8" fill="#555" text-anchor="middle">USD</text>

<g class="t" font-weight="bold" stroke-linejoin="miter" stroke-miterlimit="4" aria-label="FOREX.com">
<text transform="translate(1093.24,737.7) scale(1.062,1)" font-size="62" stroke-width="4" fill="#073a4f" stroke="#073a4f">F</text>
<text x="1140.2" y="738.6" font-size="62" fill="#0fb257">O</text>
<text transform="translate(1194.68,737.7) scale(0.995,1)" font-size="62" stroke-width="4" fill="#073a4f" stroke="#073a4f">R</text>
<text transform="translate(1243.72,737.7) scale(0.977,1)" font-size="62" stroke-width="4" fill="#073a4f" stroke="#073a4f">E</text>
<text transform="translate(1289.79,737.7) scale(1.08,1)" font-size="62" stroke-width="4" fill="#073a4f" stroke="#073a4f">X</text>
<text transform="translate(1338.45,725.8) scale(1.09,1)" font-size="28" stroke-width="1" fill="#073a4f" stroke="#073a4f">.</text>
<text transform="translate(1348.92,725.8) scale(1.0,1)" font-size="32" stroke-width="2" fill="#073a4f" stroke="#073a4f">c</text>
<text transform="translate(1368.89,725.8) scale(1.09,1)" font-size="32" stroke-width="2" fill="#073a4f" stroke="#073a4f">o</text>
<text transform="translate(1391.74,725.8) scale(1.17,1)" font-size="32" stroke-width="2" fill="#073a4f" stroke="#073a4f">m</text>
</g>
<circle cx="1343.4" cy="723.3" r="3.55" fill="#073a4f"/>
<rect x="1109" y="711" width="25" height="15" fill="#fff"/>
<rect x="1108.5" y="712.1" width="22.5" height="10.7" fill="#073a4f"/>
<path fill="#0fb257" fill-rule="evenodd" d="M1136.8,716.3 a24.4,24.5 0 1,0 48.8,0 a24.4,24.5 0 1,0 -48.8,0 Z M1150.8,716.5 a10.5,17.8 0 1,0 21,0 a10.5,17.8 0 1,0 -21,0 Z"/>
<ellipse cx="1161.3" cy="716.5" rx="10.5" ry="17.8" fill="#fff"/>
<polygon fill="#0fb257" points="1164.3,710.7 1192,710.7 1190.5,714.7 1163.2,714.7"/>
<polygon fill="#0fb257" points="1163.2,718.9 1191.1,718.9 1189.8,723.1 1162,723.1"/>
<g class="t" font-size="12.2" fill="#666" text-anchor="middle" clip-path="url(#tc)"><g class="g">
<text x="83.2" y="769" font-weight="bold" fill="#444" font-size="13.4">2020</text>
<text x="180.5" y="769">Feb</text>
<text x="268.5" y="769">Mar</text>
<text x="370.5" y="769">Apr</text>
<text x="467.8" y="769">May</text>
<text x="560.4" y="769">Jun</text>
<text x="662.4" y="769">Jul</text>
<text x="764.3" y="769">Aug</text>
<text x="861.6" y="769">Sep</text>
<text x="958.9" y="769">Oct</text>
<text x="1060.8" y="769">Nov</text>
<text x="1153.5" y="769">Dec</text>
<text x="1255.4" y="769" font-weight="bold" fill="#444" font-size="13.4">2021</text>
<text x="1343.5" y="769">Feb</text>
<text x="1431.5" y="769">Mar</text>
</g></g>
</svg>
</body></html>
